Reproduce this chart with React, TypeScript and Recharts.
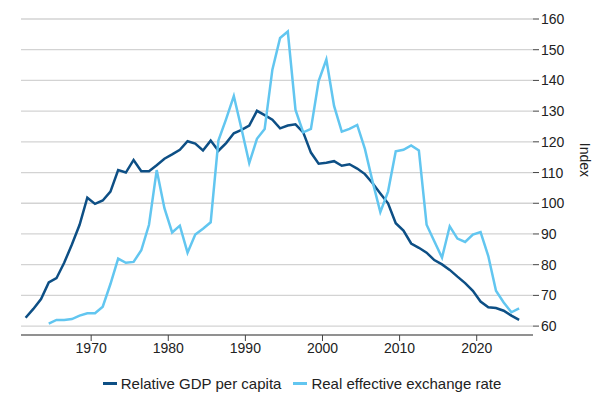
import React from "react";
import { LineChart, Line, XAxis, YAxis, CartesianGrid, Legend } from "recharts";

const years = Array.from({ length: 65 }, (_, i) => 1961 + i);

const gdpPerCapita = [
  62.7, 65.6, 68.8, 74.2, 75.6, 80.6, 86.6, 93, 101.8, 99.8,
  100.9, 103.8, 110.8, 110, 114.1, 110.4, 110.4, 112.4, 114.5, 115.9,
  117.4, 120.2, 119.4, 117.2, 120.4, 117.1, 119.6, 122.8, 123.9, 125.3,
  130.1, 128.7, 127.2, 124.4, 125.3, 125.7, 123.1, 116.5, 112.9, 113.2,
  113.7, 112.2, 112.7, 111.3, 109.5, 106.5, 103.2, 100, 93.5, 91.1,
  86.9, 85.5, 83.9, 81.5, 80.1, 78.3, 76.1, 74, 71.5, 68,
  66.1, 65.9, 65, 63.4, 62,
];

const reer = [
  null, null, null, 60.8, 62, 62, 62.3, 63.4, 64.2, 64.2,
  66.3, 73.7, 82, 80.6, 80.9, 84.7, 93, 110.8, 98.4, 90.5,
  92.7, 83.9, 89.8, 91.7, 93.8, 120.4, 127.4, 134.9, 124.2, 113.1,
  121, 124.2, 143.5, 153.8, 155.9, 130.4, 123.1, 124.2, 139.8, 146.8,
  131.7, 123.3, 124.2, 125.5, 117.7, 107, 97.1, 103.8, 116.9, 117.4,
  118.8, 117.2, 93, 87.6, 82.3, 92.5, 88.5, 87.4, 89.8, 90.6,
  82.8, 71.5, 67.7, 64.5, 65.8,
];

const xTicks = [1970, 1980, 1990, 2000, 2010, 2020];
const yTicks = [60, 70, 80, 90, 100, 110, 120, 130, 140, 150, 160];

const data = years.map((y, i) => ({ x: y + 0.5, gdp: gdpPerCapita[i], reer: reer[i] }));

const DARK = "#0d4f85";
const LIGHT = "#62c6f0";
const FONT = "'Liberation Sans', Arial, sans-serif";

function LegendContent() {
  const item = (color: string, label: string) => (
    <span style={{ display: "inline-flex", alignItems: "center", marginRight: 12 }}>
      <span style={{ display: "inline-block", width: 14, height: 3, background: color, marginRight: 4 }} />
      {label}
    </span>
  );
  return (
    <div style={{ textAlign: "center", fontFamily: FONT, fontSize: 15, color: "#222", paddingLeft: 12, paddingTop: 8 }}>
      {item(DARK, "Relative GDP per capita")}
      {item(LIGHT, "Real effective exchange rate")}
    </div>
  );
}

export default function App() {
  return (
    <div style={{ position: "fixed", left: 0, top: 0, width: 604, height: 405, background: "#fff" }}>
      <LineChart width={604} height={405} data={data} margin={{ top: 19, right: 21, left: 21, bottom: 8 }}>
        <CartesianGrid vertical={false} stroke="#d3d3d3" strokeWidth={1.3} />
        <XAxis
          dataKey="x"
          type="number"
          domain={[1960.9, 2027.3]}
          ticks={xTicks}
          tick={{ fill: "#222", fontSize: 14, fontFamily: FONT }}
          tickLine={{ stroke: "#444" }}
          axisLine={{ stroke: "#444" }}
          tickSize={6}
          height={28}
        />
        <YAxis
          orientation="right"
          domain={[57.1, 160]}
          ticks={yTicks}
          allowDataOverflow
          tick={{ fill: "#222", fontSize: 14, fontFamily: FONT }}
          tickLine={{ stroke: "#444" }}
          axisLine={false}
          tickSize={6}
          width={50}
          label={{ value: "Index", angle: 90, position: "insideRight", offset: -2, fill: "#222", fontSize: 14, fontFamily: FONT }}
        />
        <Legend verticalAlign="bottom" height={34} content={<LegendContent />} />
        <Line dataKey="gdp" stroke={DARK} strokeWidth={2.5} dot={false} isAnimationActive={false} />
        <Line dataKey="reer" stroke={LIGHT} strokeWidth={2.5} dot={false} isAnimationActive={false} connectNulls={false} />
      </LineChart>
    </div>
  );
}
